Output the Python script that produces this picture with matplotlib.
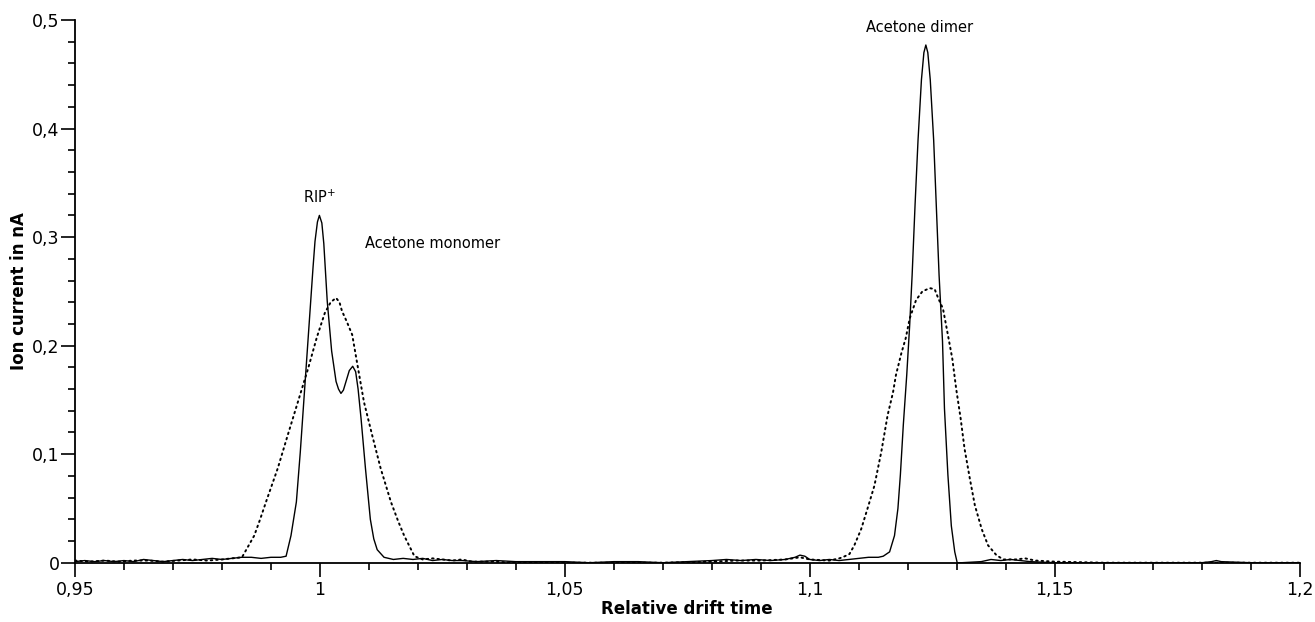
import matplotlib
matplotlib.use("Agg")
import matplotlib.pyplot as plt
from matplotlib.ticker import MultipleLocator

# ---------------- data ----------------
solid_x = [0.950, 0.952, 0.954, 0.956, 0.958, 0.960, 0.962, 0.964, 0.966, 0.968,
           0.970, 0.972, 0.974, 0.976, 0.978, 0.980, 0.982, 0.984, 0.986, 0.988,
           0.990, 0.992, 0.9931, 0.9941, 0.9952, 0.9960, 0.9967, 0.9974, 0.9981,
           0.9986, 0.9990, 0.9995, 0.9999, 1.0004, 1.0008, 1.0015, 1.0024, 1.0033,
           1.0038, 1.0043, 1.0048, 1.0054, 1.0060, 1.0067, 1.0073, 1.0078, 1.0084,
           1.0093, 1.0103, 1.0110, 1.0117, 1.0131, 1.015, 1.017, 1.019, 1.021,
           1.023, 1.025, 1.027, 1.029, 1.032, 1.036, 1.040, 1.045, 1.050, 1.055,
           1.060, 1.065, 1.070, 1.075, 1.080, 1.083, 1.086, 1.089, 1.092, 1.095,
           1.097, 1.098, 1.099, 1.100, 1.102, 1.104, 1.106, 1.108, 1.110, 1.112,
           1.114, 1.1150, 1.1163, 1.1173, 1.1180, 1.1185, 1.1191, 1.1198, 1.1204,
           1.1209, 1.1215, 1.1221, 1.1228, 1.1233, 1.1237, 1.1241, 1.1246, 1.1253,
           1.1259, 1.1264, 1.1271, 1.1275, 1.1282, 1.1289, 1.1296, 1.1301, 1.131,
           1.135, 1.137, 1.139, 1.141, 1.143, 1.145, 1.150, 1.160, 1.170, 1.180,
           1.182, 1.183, 1.184, 1.190, 1.200]
solid_y = [0.001, 0.002, 0.001, 0.002, 0.001, 0.002, 0.001, 0.003, 0.002, 0.001,
           0.002, 0.003, 0.002, 0.003, 0.004, 0.003, 0.004, 0.005, 0.005, 0.004,
           0.005, 0.005, 0.006, 0.025, 0.056, 0.102, 0.148, 0.195, 0.241,
           0.272, 0.296, 0.314, 0.320, 0.313, 0.294, 0.241, 0.195, 0.167,
           0.160, 0.156, 0.159, 0.168, 0.177, 0.181, 0.176, 0.160, 0.133,
           0.087, 0.040, 0.022, 0.012, 0.005, 0.003, 0.004, 0.003, 0.004,
           0.002, 0.003, 0.002, 0.002, 0.001, 0.002, 0.001, 0.001, 0.001, 0.000,
           0.001, 0.001, 0.000, 0.001, 0.002, 0.003, 0.002, 0.003, 0.002, 0.003,
           0.005, 0.007, 0.006, 0.003, 0.002, 0.003, 0.002, 0.003, 0.004, 0.005,
           0.005, 0.006, 0.010, 0.025, 0.050, 0.081, 0.127, 0.173, 0.219,
           0.265, 0.330, 0.389, 0.445, 0.470, 0.477, 0.470, 0.445, 0.389,
           0.320, 0.265, 0.204, 0.142, 0.081, 0.034, 0.010, 0.000, 0.000,
           0.001, 0.003, 0.002, 0.003, 0.002, 0.001, 0.000, 0.000, 0.000, 0.000,
           0.001, 0.002, 0.001, 0.000, 0.000]

dotted_x = [0.950, 0.953, 0.956, 0.959, 0.962, 0.965, 0.968, 0.971, 0.974, 0.977,
            0.980, 0.982, 0.9841, 0.9866, 0.9878, 0.9890, 0.9914, 0.9934, 0.9955,
            0.9976, 0.9994, 1.0010, 1.0022, 1.0033, 1.0040, 1.0045, 1.0055, 1.0066,
            1.0076, 1.0090, 1.0107, 1.0124, 1.0145, 1.0160, 1.0172, 1.0193, 1.021,
            1.023, 1.025, 1.027, 1.029, 1.031, 1.035, 1.040, 1.050, 1.060, 1.070,
            1.080, 1.085, 1.090, 1.095, 1.098, 1.100, 1.104, 1.106, 1.1067,
            1.1081, 1.1091, 1.1105, 1.1118, 1.1132, 1.1146, 1.1159, 1.1170,
            1.1176, 1.1187, 1.1196, 1.1204, 1.1217, 1.1230, 1.1245, 1.1255,
            1.1262, 1.1272, 1.1282, 1.1291, 1.1299, 1.1308, 1.1316, 1.1327,
            1.1337, 1.1351, 1.1364, 1.1381, 1.1395, 1.142, 1.144, 1.146, 1.150,
            1.160, 1.170, 1.180, 1.190, 1.200]
dotted_y = [0.002, 0.001, 0.002, 0.001, 0.002, 0.002, 0.001, 0.002, 0.003, 0.002,
            0.003, 0.004, 0.005, 0.025, 0.040, 0.056, 0.087, 0.117, 0.148,
            0.179, 0.208, 0.230, 0.240, 0.244, 0.240, 0.232, 0.222, 0.210,
            0.184, 0.148, 0.117, 0.087, 0.056, 0.038, 0.025, 0.006, 0.003,
            0.004, 0.003, 0.002, 0.003, 0.001, 0.001, 0.000, 0.000, 0.000, 0.000,
            0.001, 0.002, 0.002, 0.003, 0.005, 0.003, 0.002, 0.004, 0.005,
            0.008, 0.016, 0.031, 0.050, 0.071, 0.102, 0.136, 0.157,
            0.173, 0.193, 0.207, 0.225, 0.242, 0.250, 0.253, 0.252,
            0.244, 0.234, 0.210, 0.188, 0.160, 0.133, 0.105, 0.077,
            0.053, 0.031, 0.016, 0.007, 0.003, 0.003, 0.004, 0.002, 0.001,
            0.000, 0.000, 0.000, 0.000, 0.000]

x_ticks = [0.95, 1.00, 1.05, 1.10, 1.15, 1.20]
x_tick_labels = ["0,95", "1", "1,05", "1,1", "1,15", "1,2"]
y_ticks = [0.0, 0.1, 0.2, 0.3, 0.4, 0.5]
y_tick_labels = ["0", "0,1", "0,2", "0,3", "0,4", "0,5"]

annotations = [("RIP$^{+}$", 1.0, 0.337, "center"),
               ("Acetone monomer", 1.0092, 0.294, "left"),
               ("Acetone dimer", 1.1224, 0.493, "center")]

# ---------------- figure ----------------
plt.rcParams['font.family'] = ['DejaVu Sans']
fig = plt.figure(figsize=(13.15, 6.22), dpi=100)
ax = fig.add_axes([0.0570, 0.0953, 0.9313, 0.8725])

ax.plot(dotted_x, dotted_y, color="black", lw=1.4, linestyle=(0, (0.8, 2.0)),
        dash_capstyle="round")
ax.plot(solid_x, solid_y, color="black", lw=1.0, solid_joinstyle="round")

ax.set_xlim(0.95, 1.20)
ax.set_ylim(0.0, 0.5)

ax.set_xticks(x_ticks)
ax.set_xticklabels(x_tick_labels)
ax.set_yticks(y_ticks)
ax.set_yticklabels(y_tick_labels)
ax.xaxis.set_minor_locator(MultipleLocator(0.01))
ax.yaxis.set_minor_locator(MultipleLocator(0.02))

for s in ["top", "right"]:
    ax.spines[s].set_visible(False)
for s in ["left", "bottom"]:
    ax.spines[s].set_linewidth(1.3)

ax.tick_params(axis="x", which="major", direction="out", length=10, width=1.2,
               labelsize=12.5, pad=3)
ax.tick_params(axis="x", which="minor", direction="out", length=5.2, width=1.2)
ax.tick_params(axis="y", which="major", direction="out", length=10, width=1.2,
               labelsize=12.5, pad=1)
ax.tick_params(axis="y", which="minor", direction="out", length=5.2, width=1.2)

ax.set_xlabel("Relative drift time", fontsize=12, fontweight="bold", labelpad=1)
ax.set_ylabel("Ion current in nA", fontsize=12, fontweight="bold", labelpad=3)

for txt, xx, yy, ha in annotations:
    ax.text(xx, yy, txt, fontsize=10.5, ha=ha, va="center")

fig.savefig("out.png", dpi=100)
